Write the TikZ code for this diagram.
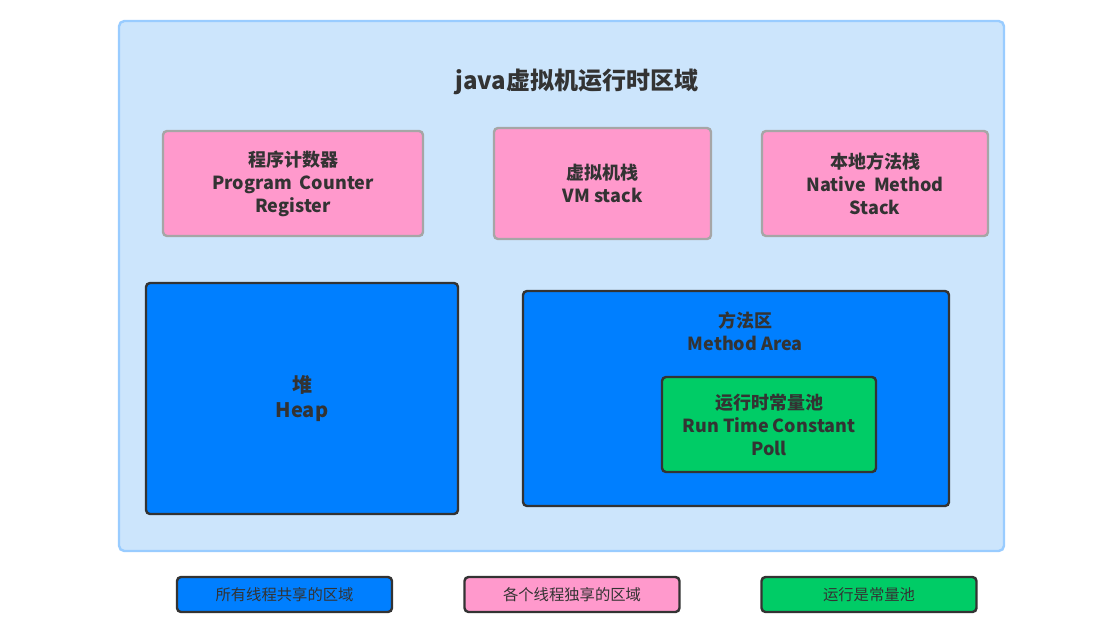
\documentclass[tikz,border=0pt]{standalone}
\usepackage{fontspec}
\setmainfont{Noto Sans CJK SC}
\usetikzlibrary{positioning}
\definecolor{bgblue}{HTML}{CCE5FC}
\definecolor{bgline}{HTML}{99CCFF}
\definecolor{shared}{HTML}{007FFF}
\definecolor{private}{HTML}{FF99CC}
\definecolor{poolgreen}{HTML}{00CC66}
\definecolor{dkgray}{HTML}{333333}
\definecolor{ltgray}{HTML}{A6A6A6}

\begin{document}
\begin{tikzpicture}[
  x=0.75pt, y=-0.75pt,
  every node/.style={text=dkgray, align=center, inner sep=0pt},
  box/.style={rounded corners=3pt, line width=1.8pt, font=\bfseries\fontsize{13.5}{17.3}\selectfont},
  thread/.style={box, fill=private, draw=ltgray, minimum height=78.75pt},
  area/.style={box, fill=shared, draw=dkgray},
  legend/.style={rounded corners=3pt, line width=1.8pt, draw=dkgray, minimum width=161.25pt, minimum height=26.25pt, font=\fontsize{11.5}{14}\selectfont},
]

% Canvas
\useasboundingbox (0,0) rectangle (1093,640);
\fill[white] (0,0) rectangle (1093,640);

% Runtime data area
\draw[fill=bgblue, draw=bgline, line width=1.8pt, rounded corners=4pt] (119,21) rectangle (1004,551);
\node[font=\bfseries\fontsize{18}{22}\selectfont] (title) at (577,82) {java虚拟机运行时区域};

% Per-thread areas
\node[thread, minimum width=195pt] (pc) at (293,183.5) {程序计数器\\Program\ \ Counter\\Register};
\node[thread, minimum width=162.75pt, minimum height=83.25pt] (vmstack) at (602.5,183.5) {虚拟机栈\\VM stack};
\node[thread, minimum width=169.5pt] (native) at (875,183.5) {本地方法栈\\Native\ \ Method\\Stack};

% Shared areas
\node[area, minimum width=234pt, minimum height=173.25pt, font=\bfseries\fontsize{15}{19}\selectfont] (heap) at (302,398.5) {堆\\Heap};
\node[area, minimum width=319.5pt, minimum height=161.25pt] (method) at (736,398.5) {};
\node[box, below=15.5pt of method.north, xshift=7pt] (methodlbl) {方法区\\Method Area};

% Constant pool
\node[box, fill=poolgreen, draw=dkgray, minimum width=160.5pt, minimum height=71.25pt] (pool) at (769,424.5) {运行时常量池\\Run Time Constant\\Poll};

% Legend
\node[legend, fill=shared] (keyshared) at (284.5,594.5) {所有线程共享的区域};
\node[legend, fill=private] (keyprivate) at (572,594.5) {各个线程独享的区域};
\node[legend, fill=poolgreen] (keypool) at (869,594.5) {运行是常量池};

\end{tikzpicture}
\end{document}
